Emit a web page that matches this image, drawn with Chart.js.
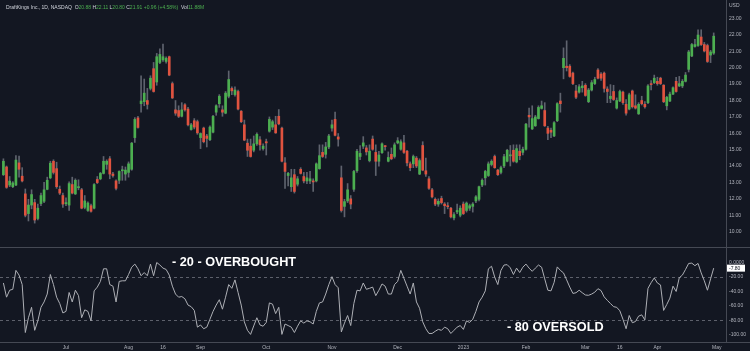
<!DOCTYPE html>
<html>
<head>
<meta charset="utf-8">
<script src="https://cdn.jsdelivr.net/npm/chart.js@4.4.0/dist/chart.umd.min.js"></script>
<style>
  body { margin: 0; background: #131722; }
  #wrap { position: relative; width: 750px; height: 351px; overflow: hidden; background: #131722; }
  canvas { position: absolute; left: 0; }
  .line { position: absolute; background: #454954; }
  .note { position: absolute; color: #ffffff; font: bold 12.7px 'Liberation Sans', Arial, sans-serif; line-height: 12px; white-space: pre; }
</style>
</head>
<body>
<div id="wrap">
  <canvas id="price" width="750" height="247" style="top:0"></canvas>
  <canvas id="wr" width="750" height="104" style="top:247px"></canvas>
  <div class="line" style="left:0;top:247px;width:750px;height:1px"></div>
  <div class="line" style="left:0;top:342px;width:750px;height:1px"></div>
  <div class="line" style="left:726px;top:0;width:1px;height:342px"></div>
  <div class="note" style="left:172px;top:256px">- 20 - OVERBOUGHT</div>
  <div class="note" style="left:507px;top:321px">- 80 OVERSOLD</div>
</div>
<script>
// DKNG daily candles, 2 Jun 2022 -> 28 Apr 2023 (index 0 = first bar)
const opens = [
  13.47, 13.94, 12.84, 12.74, 12.84, 14.19, 13.38, 12.30, 11.10, 11.62,
  11.77, 10.80, 11.71, 11.85, 12.58, 13.28, 14.29, 13.84, 12.58, 12.20,
  11.70, 11.62, 12.87, 12.30, 12.68, 12.55, 11.48, 11.29, 11.58, 11.43,
  13.18, 13.22, 13.55, 14.10, 14.44, 13.51, 13.09, 13.13, 13.71, 13.51,
  13.61, 13.80, 15.73, 16.93, 17.80, 17.92, 17.99, 18.73, 19.93, 19.12,
  20.31, 20.47, 20.37, 20.66, 19.02, 17.42, 17.38, 17.03, 17.73, 17.47,
  16.22, 16.76, 16.70, 15.73, 16.31, 15.83, 15.60, 16.06, 17.28, 17.80,
  17.42, 17.22, 18.25, 18.73, 18.35, 18.54, 17.34, 16.51, 15.39, 15.21,
  14.96, 15.35, 15.60, 15.06, 15.48, 16.12, 16.37, 16.51, 17.03, 16.31,
  14.19, 13.42, 12.74, 13.47, 12.89, 13.80, 13.36, 13.09, 13.09, 13.07,
  13.09, 13.84, 14.83, 14.71, 15.16, 16.31, 16.84, 15.77, 13.28, 11.54,
  11.87, 12.00, 12.58, 13.71, 14.58, 15.21, 15.10, 14.33, 15.64, 14.83,
  14.29, 14.81, 15.23, 14.29, 14.71, 14.58, 15.41, 15.02, 15.41, 14.90,
  14.13, 14.13, 14.48, 13.51, 15.25, 13.71, 13.22, 12.55, 11.97, 11.68,
  12.02, 11.68, 11.58, 11.43, 10.84, 11.20, 11.00, 11.68, 11.29, 11.43,
  11.54, 11.87, 11.97, 12.84, 13.28, 13.42, 14.09, 14.58, 13.75, 13.61,
  14.00, 14.29, 14.62, 14.96, 14.25, 14.90, 14.83, 15.02, 17.09, 16.26,
  16.45, 16.89, 17.51, 17.38, 16.31, 16.18, 15.83, 16.76, 17.96, 19.99,
  20.08, 20.08, 19.66, 18.57, 18.50, 18.77, 18.92, 17.92, 18.63, 19.02,
  19.85, 19.60, 19.66, 18.69, 18.11, 18.54, 17.53, 17.96, 18.50, 17.76,
  17.47, 18.57, 17.67, 17.18, 17.99, 17.76, 17.86, 19.02, 19.08, 19.16,
  19.35, 18.92, 17.67, 17.96, 18.38, 19.16, 18.88, 18.88, 19.16, 19.89,
  20.70, 21.28, 21.34, 21.86, 21.40, 21.34, 20.76, 20.88
];
const highs = [
  14.44, 14.00, 13.36, 13.05, 14.63, 14.60, 13.90, 12.60, 11.97, 12.55,
  11.97, 11.68, 12.35, 13.00, 13.32, 14.29, 14.38, 14.23, 12.78, 12.35,
  12.06, 13.03, 13.32, 13.22, 13.16, 12.64, 12.20, 11.81, 11.68, 12.93,
  13.36, 13.61, 14.58, 14.38, 14.58, 13.61, 13.16, 13.71, 13.99, 13.94,
  14.25, 15.44, 16.95, 17.03, 19.50, 19.30, 18.73, 19.50, 20.31, 20.86,
  21.14, 21.43, 20.66, 20.70, 19.12, 17.99, 17.67, 17.86, 17.80, 17.57,
  16.60, 16.89, 16.80, 16.02, 16.37, 15.93, 16.45, 17.09, 17.73, 18.35,
  17.67, 18.54, 19.79, 18.83, 18.83, 18.63, 17.38, 16.80, 15.64, 15.64,
  15.83, 16.02, 15.79, 15.35, 15.64, 16.99, 16.80, 17.03, 17.44, 16.37,
  14.52, 13.61, 13.80, 13.80, 13.36, 13.90, 13.61, 13.61, 13.67, 13.22,
  14.19, 15.29, 15.29, 15.44, 15.93, 16.80, 17.28, 15.98, 14.00, 11.97,
  12.93, 12.20, 13.74, 15.02, 15.25, 15.79, 15.25, 15.29, 15.83, 15.29,
  14.90, 15.41, 15.25, 14.86, 15.10, 15.41, 15.73, 15.60, 15.87, 14.96,
  14.25, 14.67, 14.58, 14.44, 15.48, 14.48, 13.36, 12.64, 12.06, 12.00,
  12.16, 11.77, 11.77, 11.48, 11.16, 11.68, 11.58, 11.81, 11.81, 11.68,
  11.77, 12.20, 12.78, 13.22, 13.74, 14.25, 14.38, 14.67, 13.80, 14.00,
  14.71, 15.02, 15.25, 15.29, 15.29, 15.29, 15.15, 16.60, 17.53, 17.67,
  17.09, 17.67, 17.96, 17.86, 16.41, 16.31, 16.70, 17.86, 18.44, 21.20,
  21.63, 20.18, 19.73, 18.92, 18.96, 19.16, 19.02, 18.73, 19.21, 19.41,
  19.93, 19.70, 19.73, 18.83, 18.96, 18.92, 18.15, 18.63, 18.57, 18.05,
  18.44, 18.63, 18.34, 17.86, 18.25, 17.92, 18.96, 19.21, 19.54, 19.41,
  19.41, 18.96, 18.25, 18.50, 18.83, 19.41, 19.46, 19.27, 19.70, 21.05,
  21.47, 21.72, 22.30, 22.30, 21.53, 21.43, 21.05, 22.11
];
const lows = [
  13.42, 12.64, 12.74, 12.68, 12.80, 13.32, 13.03, 10.90, 10.65, 11.39,
  10.52, 10.71, 11.58, 11.77, 12.55, 13.22, 13.51, 12.64, 12.26, 11.48,
  11.58, 11.29, 12.30, 12.26, 12.55, 11.39, 11.39, 11.23, 11.19, 11.39,
  12.93, 13.16, 13.51, 13.80, 13.22, 13.32, 12.55, 12.93, 13.13, 13.13,
  13.32, 13.74, 15.44, 16.31, 17.28, 17.67, 17.47, 18.63, 18.50, 18.92,
  20.24, 20.37, 20.27, 19.50, 18.11, 17.09, 16.95, 16.99, 17.34, 16.45,
  16.18, 16.26, 15.93, 15.06, 15.41, 15.16, 15.54, 16.02, 17.09, 17.57,
  17.03, 17.18, 18.15, 18.35, 18.25, 17.42, 16.64, 15.54, 14.58, 14.54,
  14.86, 15.25, 14.96, 14.96, 14.67, 16.06, 16.22, 15.99, 16.51, 14.25,
  12.64, 12.78, 12.45, 12.35, 12.78, 13.51, 12.97, 12.93, 12.93, 12.45,
  13.03, 13.80, 14.52, 14.48, 15.06, 16.12, 15.83, 15.21, 11.19, 10.90,
  11.77, 11.39, 12.45, 13.61, 14.38, 15.06, 14.67, 14.25, 14.96, 13.42,
  13.99, 14.77, 14.96, 14.25, 14.38, 14.48, 15.35, 14.96, 14.77, 14.00,
  13.71, 13.90, 13.90, 13.47, 13.71, 13.36, 12.58, 12.06, 11.58, 11.54,
  11.68, 11.10, 11.39, 10.84, 10.71, 11.10, 10.90, 11.04, 11.19, 11.29,
  11.19, 11.77, 11.87, 12.74, 12.84, 13.36, 14.00, 13.86, 13.42, 13.51,
  13.90, 14.25, 14.00, 14.23, 14.19, 14.38, 14.67, 14.96, 16.37, 16.22,
  16.41, 16.86, 17.47, 16.41, 15.60, 15.73, 15.79, 16.70, 17.28, 19.31,
  19.79, 19.41, 18.96, 18.11, 18.44, 18.50, 18.25, 17.86, 18.57, 18.96,
  19.31, 19.21, 18.50, 17.86, 17.86, 17.99, 17.47, 17.92, 17.76, 17.09,
  17.42, 17.53, 17.47, 17.14, 17.72, 17.53, 17.80, 18.63, 19.02, 18.92,
  18.96, 17.86, 17.42, 17.92, 18.34, 18.50, 18.83, 18.77, 19.12, 19.73,
  20.66, 21.24, 21.28, 21.34, 20.95, 20.31, 20.30, 20.80
];
const closes = [
  14.29, 12.70, 13.08, 12.97, 14.36, 13.80, 13.09, 11.00, 11.62, 12.26,
  10.71, 11.43, 12.20, 12.55, 13.13, 14.17, 13.61, 12.74, 12.35, 11.68,
  11.77, 12.93, 12.35, 13.13, 12.74, 11.43, 11.87, 11.74, 11.24, 12.87,
  12.99, 13.55, 14.29, 14.29, 13.51, 13.42, 12.64, 13.67, 13.75, 13.75,
  14.13, 15.39, 16.84, 16.35, 17.96, 18.44, 17.76, 19.35, 18.54, 20.66,
  20.80, 20.66, 20.56, 19.54, 18.15, 17.22, 17.03, 17.42, 17.42, 16.51,
  16.51, 16.37, 16.02, 15.98, 15.48, 15.68, 16.37, 17.03, 17.67, 18.25,
  17.28, 18.44, 19.27, 18.58, 18.63, 17.47, 16.70, 15.58, 14.96, 14.58,
  15.35, 15.93, 15.29, 15.21, 15.41, 16.84, 16.70, 16.02, 16.57, 14.29,
  13.67, 13.55, 13.28, 12.45, 13.22, 13.55, 13.09, 13.28, 13.22, 13.03,
  14.13, 14.63, 14.58, 15.16, 15.83, 16.51, 15.87, 15.64, 11.29, 11.83,
  12.55, 11.68, 13.67, 14.90, 14.77, 15.41, 14.86, 14.90, 15.02, 14.29,
  14.67, 15.35, 15.18, 14.52, 14.44, 15.29, 15.54, 15.48, 14.83, 14.19,
  13.90, 14.58, 14.00, 14.33, 13.75, 13.51, 12.64, 12.12, 11.68, 11.85,
  11.77, 11.58, 11.52, 10.90, 11.04, 11.29, 11.43, 11.10, 11.74, 11.58,
  11.68, 12.12, 12.74, 13.13, 13.67, 14.13, 14.29, 13.90, 13.47, 13.90,
  14.57, 14.96, 14.67, 14.29, 15.06, 14.63, 15.02, 16.55, 16.99, 16.89,
  16.99, 17.57, 17.67, 16.45, 15.99, 16.06, 16.64, 17.80, 17.80, 20.56,
  19.99, 19.46, 19.02, 18.19, 18.83, 18.88, 18.30, 18.63, 19.08, 19.27,
  19.35, 19.35, 18.73, 18.54, 18.25, 18.05, 17.99, 18.54, 17.86, 17.22,
  18.34, 17.61, 17.53, 17.76, 17.80, 17.61, 18.88, 18.96, 19.35, 19.02,
  19.02, 17.92, 18.19, 18.38, 18.77, 18.54, 19.02, 19.16, 19.54, 20.95,
  21.40, 21.40, 21.98, 21.40, 21.01, 20.37, 20.95, 21.91
];
// Williams %R (14)
const willr = [
  -28.3, -47.9, -38.3, -37.0, -10.9, -17.4, -30.5, -96.7, -76.3, -61.9,
  -93.7, -80.6, -61.9, -54.5, -43.6, -16.6, -30.5, -47.9, -56.6, -69.7,
  -67.5, -41.4, -54.5, -38.3, -45.8, -76.3, -65.4, -67.5, -80.6, -39.2,
  -34.0, -26.1, -8.7, -8.7, -30.5, -32.7, -54.5, -26.1, -25.3, -25.3,
  -16.6, -6.5, -2.2, -8.7, -18.3, -13.9, -18.3, -2.2, -18.3, 0,
  -3.5, -7.8, -9.6, -17.4, -32.7, -43.6, -47.9, -47.0, -50.1, -58.8,
  -61.0, -66.2, -89.3, -86.3, -91.5, -89.3, -78.4, -67.5, -58.8, -51.4,
  -64.5, -47.9, -30.5, -35.7, -24.0, -41.4, -58.8, -82.0, -93.7, -99.3,
  -87.6, -76.3, -86.3, -88.0, -82.8, -55.8, -57.5, -70.6, -61.9, -99.3,
  -85.0, -87.1, -89.3, -96.7, -88.0, -80.6, -83.7, -80.6, -81.9, -85.0,
  -67.5, -55.8, -54.5, -43.6, -30.5, -19.6, -30.5, -34.9, -95.9, -83.7,
  -73.2, -87.1, -56.6, -38.3, -39.2, -28.3, -37.0, -35.7, -34.0, -45.8,
  -38.3, -29.6, -32.7, -43.6, -43.6, -30.5, -26.1, -10.9, -21.8, -32.7,
  -43.6, -28.3, -54.5, -63.2, -81.9, -91.5, -98.0, -98.0, -95.0, -92.4,
  -93.7, -89.3, -91.5, -98.0, -93.7, -89.3, -87.1, -92.4, -80.6, -82.8,
  -78.4, -67.5, -54.5, -47.9, -39.2, -8.7, -5.2, -20.0, -30.5, -10.9,
  -3.5, -3.0, -7.4, -16.6, -7.8, -13.9, -6.5, -2.2, -7.8, -12.2,
  -7.8, -3.5, -6.5, -22.7, -38.3, -39.2, -27.5, -6.1, -10.9, -14.4,
  -24.0, -34.0, -42.7, -41.8, -38.3, -41.8, -44.9, -45.3, -43.6, -41.0,
  -36.2, -38.8, -47.5, -52.3, -56.6, -61.0, -61.9, -66.7, -78.4, -91.5,
  -73.2, -83.2, -81.5, -74.1, -72.3, -79.3, -35.7, -27.9, -21.4, -28.3,
  -31.0, -66.2, -58.0, -49.2, -32.7, -40.0, -21.0, -17.4, -9.6, -1.3,
  -0.9, -4.4, -1.3, -14.4, -25.3, -38.3, -22.7, -7.8
];
const priceTicks = [10, 11, 12, 13, 14, 15, 16, 17, 18, 19, 20, 21, 22, 23];
const wrTicks = [0, -20, -40, -60, -80, -100];
const wrLevels = [-20, -80];
// bar index of each date label
const tickIdx = [20, 40, 51, 63, 84, 105, 126, 147, 167, 186, 197, 209, 228];
const tickText = ['Jul', 'Aug', '16', 'Sep', 'Oct', 'Nov', 'Dec', '2023', 'Feb', 'Mar', '16', 'Apr', 'May'];

const upColor = '#4caf50';
const downColor = '#e0533f';
const wickColor = '#5f636e';
const axisText = '#b2b5be';
const tiny = '5px "Liberation Sans", Arial, sans-serif';
const xMin = -1.09, xMax = 230.93;

const fixWidth = function(scale) { scale.width = 24; };

const headerPlugin = {
    id: 'header',
    afterDraw: function(chart) {
        const ctx = chart.ctx;
        ctx.save();
        ctx.font = tiny;
        ctx.textBaseline = 'middle';
        const parts = [
            ['DraftKings Inc., 1D, NASDAQ  ', '#d1d4dc'],
            ['O', '#d1d4dc'], ['20.88', upColor],
            [' H', '#d1d4dc'], ['22.11', upColor],
            [' L', '#d1d4dc'], ['20.80', upColor],
            [' C', '#d1d4dc'], ['21.91', upColor],
            [' +0.96 (+4.58%)', upColor],
            ['  Vol', '#d1d4dc'], ['11.88M', upColor]
        ];
        let x = 6;
        parts.forEach(p => {
            ctx.fillStyle = p[1];
            ctx.fillText(p[0], x, 8);
            x += ctx.measureText(p[0]).width;
        });
        ctx.fillStyle = axisText;
        ctx.fillText('USD', 729, 6);
        ctx.restore();
    }
};

new Chart(document.getElementById('price'), {
    type: 'bar',
    data: {
        datasets: [{
            data: opens.map((o, i) => ({x: i, y: [o, closes[i]]})),
            backgroundColor: opens.map((o, i) => closes[i] >= o ? upColor : downColor),
            barThickness: 2,
            minBarLength: 1,
            grouped: false
        }, {
            data: lows.map((l, i) => ({x: i, y: [l, highs[i]]})),
            backgroundColor: wickColor,
            barThickness: 1,
            grouped: false
        }]
    },
    options: {
        responsive: false,
        animation: false,
        devicePixelRatio: 1,
        layout: { padding: 0 },
        plugins: { legend: { display: false }, tooltip: { enabled: false } },
        scales: {
            x: { type: 'linear', min: xMin, max: xMax, offset: false, display: false },
            y: {
                position: 'right',
                min: 9.43,
                max: 23.75,
                afterFit: fixWidth,
                afterBuildTicks: s => { s.ticks = priceTicks.map(v => ({value: v})); },
                grid: { display: false, drawTicks: false },
                border: { display: false },
                ticks: {
                    padding: 3,
                    color: axisText,
                    font: { size: 5, family: '"Liberation Sans", Arial, sans-serif' },
                    callback: v => v.toFixed(2)
                }
            }
        }
    },
    plugins: [headerPlugin]
});

const wrPlugin = {
    id: 'wrExtras',
    beforeDatasetsDraw: function(chart) {
        const ctx = chart.ctx, a = chart.chartArea, y = chart.scales.y;
        ctx.save();
        ctx.strokeStyle = '#5d606b';
        ctx.lineWidth = 1;
        ctx.setLineDash([3, 3]);
        wrLevels.forEach(v => {
            const py = Math.round(y.getPixelForValue(v)) + 0.5;
            ctx.beginPath();
            ctx.moveTo(a.left, py);
            ctx.lineTo(a.right, py);
            ctx.stroke();
        });
        ctx.restore();
    },
    afterDraw: function(chart) {
        const ctx = chart.ctx, y = chart.scales.y;
        const last = willr[willr.length - 1];
        const py = y.getPixelForValue(last);
        ctx.save();
        ctx.fillStyle = '#ffffff';
        ctx.fillRect(727, py - 3.5, 18, 7);
        ctx.fillStyle = '#131722';
        ctx.font = tiny;
        ctx.textBaseline = 'middle';
        ctx.fillText(last.toFixed(2), 729, py);
        ctx.restore();
    }
};

new Chart(document.getElementById('wr'), {
    type: 'line',
    data: {
        datasets: [{
            data: willr.map((v, i) => ({x: i, y: v})),
            borderColor: '#aeb0b6',
            borderWidth: 1,
            pointRadius: 0,
            tension: 0
        }]
    },
    options: {
        responsive: false,
        animation: false,
        devicePixelRatio: 1,
        layout: { padding: { top: 1 } },
        plugins: { legend: { display: false }, tooltip: { enabled: false } },
        scales: {
            x: {
                type: 'linear',
                min: xMin,
                max: xMax,
                offset: false,
                afterFit: s => { s.height = 9; },
                afterBuildTicks: s => { s.ticks = tickIdx.map(v => ({value: v})); },
                grid: { display: false, drawTicks: false },
                border: { display: false },
                ticks: {
                    padding: 3,
                    autoSkip: false,
                    maxRotation: 0,
                    color: axisText,
                    font: { size: 5, family: '"Liberation Sans", Arial, sans-serif' },
                    callback: v => tickText[tickIdx.indexOf(v)]
                }
            },
            y: {
                position: 'right',
                min: -109.8,
                max: 13.1,
                afterFit: fixWidth,
                afterBuildTicks: s => { s.ticks = wrTicks.map(v => ({value: v})); },
                grid: { display: false, drawTicks: false },
                border: { display: false },
                ticks: {
                    padding: 3,
                    color: axisText,
                    font: { size: 5, family: '"Liberation Sans", Arial, sans-serif' },
                    callback: v => v === 0 ? '0.0000' : v.toFixed(2)
                }
            }
        }
    },
    plugins: [wrPlugin]
});
</script>
</body>
</html>
